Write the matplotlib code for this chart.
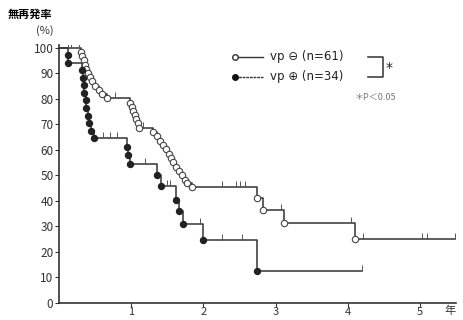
import numpy as np
import matplotlib.pyplot as plt
from matplotlib.lines import Line2D

plt.rcParams['font.family'] = ['Noto Sans CJK JP', 'DejaVu Sans']

# vp(-) 群 (n=61): イベント時点と生存率
neg_times = [0.30, 0.32, 0.34, 0.36, 0.38, 0.40, 0.43, 0.46, 0.50, 0.55, 0.60, 0.66,
             0.99, 1.01, 1.03, 1.05, 1.07, 1.09, 1.11,
             1.30, 1.36, 1.40, 1.44, 1.48, 1.52, 1.55, 1.58, 1.62, 1.66, 1.70, 1.74, 1.78, 1.84,
             2.74, 2.83, 3.12, 4.10]
neg_surv = [98.4, 96.7, 95.1, 93.4, 91.8, 90.2, 88.5, 86.9, 85.2, 83.6, 82.0, 80.3,
            78.6, 77.0, 75.3, 73.7, 72.0, 70.4, 68.7,
            67.0, 65.3, 63.6, 61.9, 60.2, 58.5, 56.8, 55.1, 53.4, 51.7, 50.0, 48.3, 46.9, 45.5,
            41.0, 36.4, 31.5, 25.0]
neg_cens = [0.12, 0.17, 0.28, 0.78, 1.16, 2.26, 2.45, 2.51, 2.58, 3.08, 4.05, 4.21, 5.03, 5.10]
neg_end = 5.48

# vp(+) 群 (n=34)
pos_times = [0.12, 0.13, 0.32, 0.33, 0.34, 0.35, 0.37, 0.38, 0.40, 0.42, 0.44, 0.48,
             0.94, 0.96, 0.98, 1.36, 1.41, 1.62, 1.66, 1.72, 1.99, 2.74]
pos_surv = [97.1, 94.1, 91.2, 88.2, 85.3, 82.4, 79.4, 76.5, 73.5, 70.6, 67.6, 64.7,
            61.3, 57.9, 54.5, 50.0, 46.0, 40.5, 36.0, 31.0, 24.8, 12.4]
pos_cens = [0.61, 0.71, 0.80, 1.19, 1.50, 1.54, 1.95, 2.26, 2.53]
pos_end = 4.20

yticks = [0, 10, 20, 30, 40, 50, 60, 70, 80, 90, 100]
xticks = [1, 2, 3, 4, 5]

fig = plt.figure(figsize=(4.63, 3.20), dpi=100)
ax = fig.add_axes([59/463, 17/320, 397/463, 257.6/320])

lc = '#333333'


def km(ax, times, surv, cens, end, filled):
    t = np.concatenate([[0], times, [end]])
    s = np.concatenate([[100], surv, [surv[-1]]])
    ax.step(t, s, where='post', color=lc, lw=1.1, zorder=2)
    if filled:
        ax.plot(times, surv, 'o', ms=4.3, mfc='#222222', mec='#222222', zorder=3)
    else:
        ax.plot(times, surv, 'o', ms=4.6, mfc='white', mec='#444444', mew=0.8, zorder=3)
    # 打ち切り
    ct = np.array(list(cens) + [end])
    idx = np.searchsorted(t, ct, side='right') - 1
    cs = s[idx]
    ax.plot(ct, cs + 1.2, '|', ms=5, mew=0.7, color='#555555', zorder=2)


km(ax, neg_times, neg_surv, neg_cens, neg_end, False)
km(ax, pos_times, pos_surv, pos_cens, pos_end, True)

ax.set_xlim(0, 5.5)
ax.set_ylim(0, 101)
ax.set_yticks(yticks)
ax.set_xticks(xticks)
ax.tick_params(axis='both', direction='out', length=3, width=0.8, colors='#333333',
               labelsize=8.5)
ax.tick_params(axis='x', pad=0, labelsize=8)
ax.tick_params(axis='y', pad=1)
for sp in ['top', 'right']:
    ax.spines[sp].set_visible(False)
for sp in ['left', 'bottom']:
    ax.spines[sp].set_color('#333333')
    ax.spines[sp].set_linewidth(1.2)

# 凡例 (手描き)
tr = ax.transAxes
ax.add_line(Line2D([0.443, 0.514], [0.955, 0.955], transform=tr, color=lc, lw=1))
ax.plot([0.443], [0.955], 'o', ms=4, mfc='white', mec='#333333', transform=tr, clip_on=False)
ax.add_line(Line2D([0.443, 0.514], [0.878, 0.878], transform=tr, color=lc, lw=1, ls=(0, (2, 0.6))))
ax.plot([0.443], [0.878], 'o', ms=4, mfc='#111111', mec='#111111', transform=tr, clip_on=False)
ax.text(0.531, 0.955, 'vp ⊖ (n=61)', transform=tr, va='center', ha='left', fontsize=8.5,
        color='#222222', family=['DejaVu Sans'])
ax.text(0.531, 0.878, 'vp ⊕ (n=34)', transform=tr, va='center', ha='left', fontsize=8.5,
        color='#222222', family=['DejaVu Sans'])
ax.add_line(Line2D([0.778, 0.816, 0.816, 0.778], [0.955, 0.955, 0.878, 0.878],
                   transform=tr, color=lc, lw=1.1))
ax.text(0.822, 0.912, '*', transform=tr, va='center', ha='left', fontsize=10, color='#222222',
        family=['DejaVu Sans'])
ax.text(0.745, 0.797, '＊P＜0.05', transform=tr, va='center', ha='left', fontsize=6.5,
        color='#777777')

fig.text(0.017, 0.955, '無再発率', fontsize=8, fontweight='bold', va='center', ha='left')
fig.text(0.097, 0.905, '(%)', fontsize=8, va='center', ha='center', color='#333333')
fig.text(0.972, 0.030, '年', fontsize=8, va='center', ha='center', color='#333333')

fig.savefig('out.png', dpi=100)
